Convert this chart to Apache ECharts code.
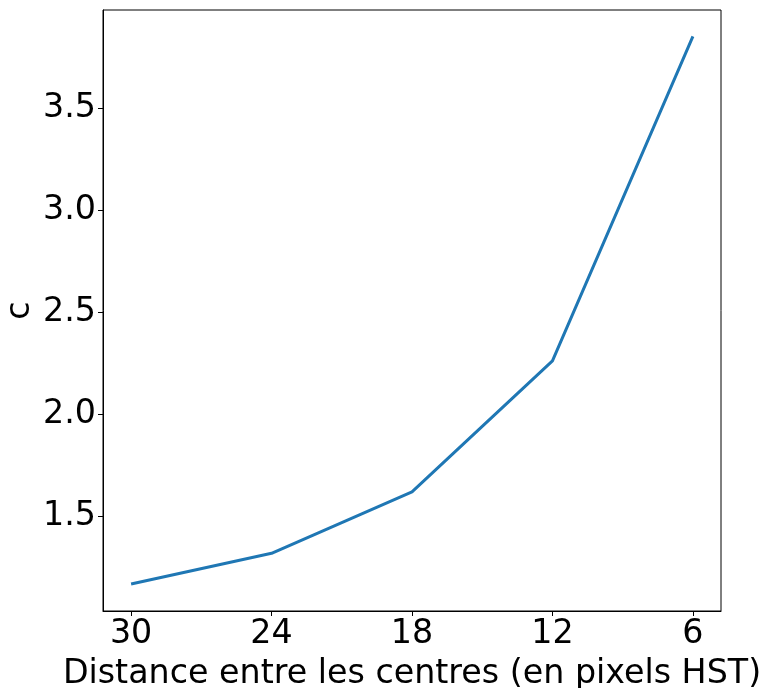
<!DOCTYPE html>
<html>
<head>
<meta charset="utf-8">
<script src="https://cdn.jsdelivr.net/npm/echarts@6/dist/echarts.min.js"></script>
<style>
  html, body { margin: 0; padding: 0; background: #fff; }
  #chart { width: 762px; height: 688px; }
</style>
</head>
<body>
<div id="chart"></div>
<script>
// Distance between centres (HST pixels) and the fitted coefficient c
const distances = [30, 24, 18, 12, 6];
const cValues = [1.166, 1.317, 1.618, 2.260, 3.851];
const xTicks = [30, 24, 18, 12, 6];
const yTicks = [1.5, 2.0, 2.5, 3.0, 3.5];

const FONT = 'DejaVu Sans';
const FS = 33.3;
const chart = echarts.init(document.getElementById('chart'), null, { renderer: 'canvas' });

chart.setOption({
  animation: false,
  backgroundColor: '#ffffff',
  grid: {
    left: 103, right: 41, top: 10, bottom: 77,
    containLabel: false,
    outerBoundsMode: 'none',
    show: true, borderColor: '#000000', borderWidth: 1, backgroundColor: 'transparent'
  },
  xAxis: {
    type: 'value',
    inverse: true,
    min: 4.8,
    max: 31.2,
    name: 'Distance entre les centres (en pixels HST)',
    nameLocation: 'middle',
    nameGap: 47,
    nameMoveOverlap: false,
    nameTextStyle: { fontFamily: FONT, fontSize: FS, color: '#000' },
    axisLine: { show: true, lineStyle: { color: '#000', width: 1 } },
    axisTick: { show: true, inside: false, length: 5, customValues: xTicks, lineStyle: { color: '#000', width: 1 } },
    axisLabel: { show: true, customValues: xTicks, fontFamily: FONT, fontSize: FS, color: '#000', margin: 7 },
    splitLine: { show: false }
  },
  yAxis: {
    type: 'value',
    min: 1.034,
    max: 3.98,
    name: 'c',
    nameLocation: 'middle',
    nameRotate: 90,
    nameGap: 66,
    nameMoveOverlap: false,
    nameTextStyle: { fontFamily: FONT, fontSize: FS, color: '#000' },
    axisLine: { show: true, lineStyle: { color: '#000', width: 1 } },
    axisTick: { show: true, inside: false, length: 5, customValues: yTicks, lineStyle: { color: '#000', width: 1 } },
    axisLabel: {
      show: true, customValues: yTicks, fontFamily: FONT, fontSize: FS, color: '#000', margin: 7,
      formatter: v => v.toFixed(1)
    },
    splitLine: { show: false }
  },
  series: [{
    type: 'line',
    data: distances.map((d, i) => [d, cValues[i]]),
    showSymbol: false,
    lineStyle: { color: '#1f77b4', width: 3 },
    itemStyle: { color: '#1f77b4' }
  }]
});
</script>
</body>
</html>
